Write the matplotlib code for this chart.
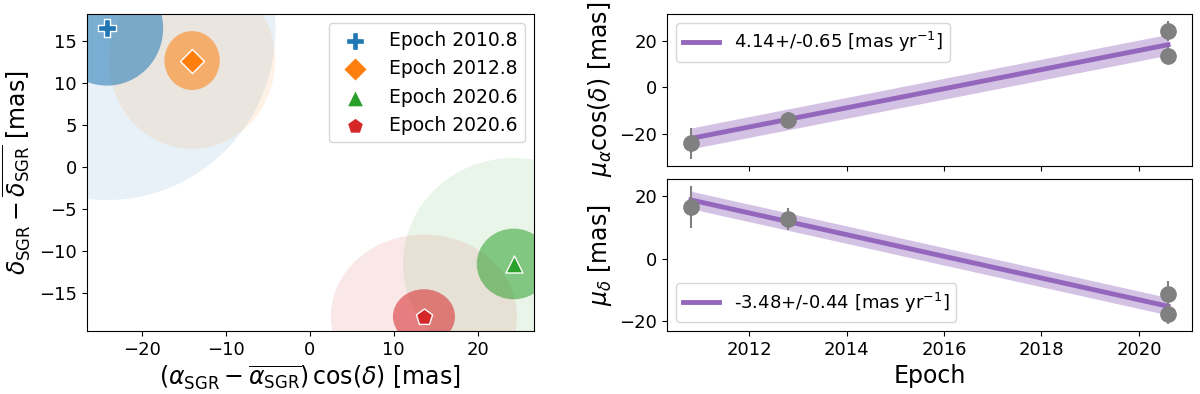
import numpy as np
import matplotlib
matplotlib.use("Agg")
import matplotlib.pyplot as plt
from matplotlib.patches import Ellipse

# offsets of the four epochs [mas]
epochs = [2010.8, 2012.8, 2020.6, 2020.6]
labels = ["Epoch 2010.8", "Epoch 2012.8", "Epoch 2020.6", "Epoch 2020.6"]
dra = [-24.2, -14.05, 24.3, 13.6]
ddec = [16.5, 12.68, -11.5, -17.75]
err_ra = [6.7, 3.3, 4.4, 3.7]
err_dec = [6.8, 3.5, 4.2, 3.25]
colors = ["tab:blue", "tab:orange", "tab:green", "tab:red"]
markers = ["P", "D", "^", "p"]

# linear fits (end points) and band half widths
fit_t = [2010.8, 2020.6]
fit_ra = [-22.1, 18.4]
fit_dec = [18.8, -15.3]
band_ra = 4.5
band_dec = 2.8
label_ra = "4.14+/-0.65 [mas yr$^{-1}$]"
label_dec = "-3.48+/-0.44 [mas yr$^{-1}$]"

plt.rcParams["font.size"] = 13

fig = plt.figure(figsize=(12, 3.94), dpi=100)

# left panel: offsets with 1 and 3 sigma ellipses
ax = fig.add_axes([0.0722, 0.160, 0.3728, 0.8045])
for i in range(len(dra)):
    ax.scatter(dra[i], ddec[i], marker=markers[i], s=150, color=colors[i],
               edgecolors="white", linewidths=1, zorder=5, label=labels[i])
for i in range(len(dra)):
    ax.add_artist(Ellipse((dra[i], ddec[i]), 2 * 3 * err_ra[i], 2 * 3 * err_dec[i],
                          color=colors[i], alpha=0.1, lw=0, zorder=1))
    ax.add_artist(Ellipse((dra[i], ddec[i]), 2 * err_ra[i], 2 * err_dec[i],
                          color=colors[i], alpha=0.55, lw=0, zorder=2))
ax.set_xlabel(r"$(\alpha_{\rm SGR}-\overline{\alpha_{\rm SGR}})\,\cos(\delta)$ [mas]", fontsize=17)
ax.set_ylabel(r"$\delta_{\rm SGR}-\overline{\delta_{\rm SGR}}$ [mas]", fontsize=17)
ax.legend(loc="upper right", fontsize=13.5)

# right panels: proper motion fits
ax1 = fig.add_axes([0.5558, 0.5794, 0.4375, 0.3851])
ax2 = fig.add_axes([0.5558, 0.160, 0.4375, 0.3857], sharex=ax1)

fr = np.array(fit_ra)
ax1.fill_between(fit_t, fr - band_ra, fr + band_ra, color="tab:purple", alpha=0.4, lw=0)
ax1.plot(fit_t, fr, color="tab:purple", lw=3.5, label=label_ra)
ax1.errorbar(epochs, dra, yerr=err_ra, fmt="o", color="grey", ms=11, elinewidth=1.5)
ax1.set_ylabel(r"$\mu_{\alpha}\cos(\delta)$ [mas]", fontsize=17)
ax1.legend(loc="upper left", fontsize=13)
plt.setp(ax1.get_xticklabels(), visible=False)

fd = np.array(fit_dec)
ax2.fill_between(fit_t, fd - band_dec, fd + band_dec, color="tab:purple", alpha=0.4, lw=0)
ax2.plot(fit_t, fd, color="tab:purple", lw=3.5, label=label_dec)
ax2.errorbar(epochs, ddec, yerr=err_dec, fmt="o", color="grey", ms=11, elinewidth=1.5)
ax2.set_ylabel(r"$\mu_{\delta}$ [mas]", fontsize=17)
ax2.set_xlabel("Epoch", fontsize=17)
ax2.legend(loc="lower left", fontsize=13)
ax2.set_xticks([2012, 2014, 2016, 2018, 2020])

plt.savefig("out.png", dpi=100)
